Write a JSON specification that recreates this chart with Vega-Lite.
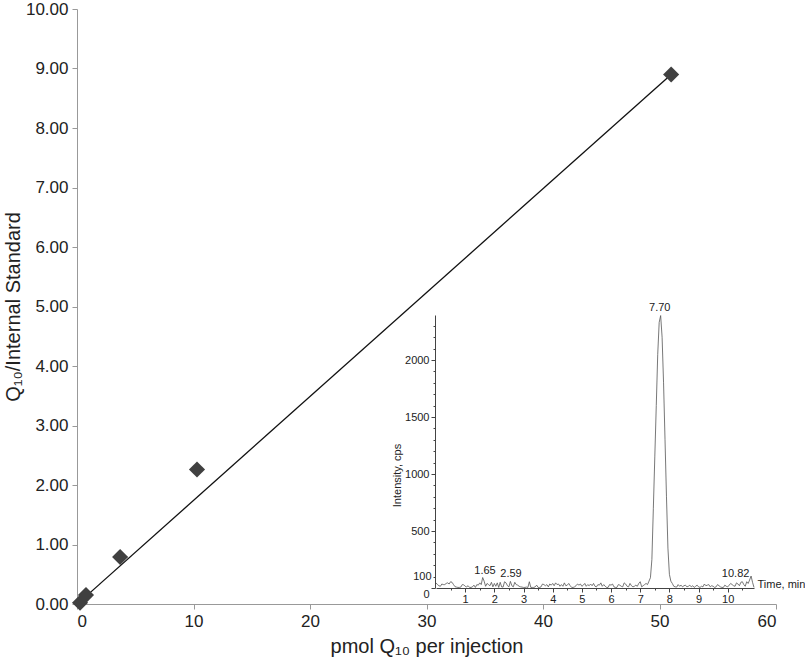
{
  "$schema": "https://vega.github.io/schema/vega-lite/v6.json",
  "width": 699,
  "height": 595,
  "autosize": "none",
  "padding": {"left": 77, "top": 9, "right": 29, "bottom": 66},
  "background": "white",
  "config": {"view": {"stroke": null}, "font": "Liberation Sans", "axis": {"grid": false}},
  "datasets": {
    "cal": [
      {"amount": 0.26, "ratio": 0.02},
      {"amount": 0.77, "ratio": 0.15},
      {"amount": 3.7, "ratio": 0.79},
      {"amount": 10.3, "ratio": 2.26},
      {"amount": 51.0, "ratio": 8.9}
    ],
    "fit": [
      {"amount": 0.26, "ratio": 0.04},
      {"amount": 51.0, "ratio": 8.9}
    ],
    "chrom": [
      {"t":0.00,"v":45},{"t":0.05,"v":30},{"t":0.10,"v":20},{"t":0.15,"v":15},{"t":0.20,"v":35},{"t":0.25,"v":30},{"t":0.30,"v":30},{"t":0.35,"v":40},{"t":0.40,"v":45},{"t":0.45,"v":35},
      {"t":0.50,"v":55},{"t":0.55,"v":50},{"t":0.60,"v":30},{"t":0.65,"v":12},{"t":0.70,"v":8},{"t":0.75,"v":5},{"t":0.80,"v":5},{"t":0.85,"v":8},{"t":0.90,"v":30},{"t":0.95,"v":28},
      {"t":1.00,"v":15},{"t":1.05,"v":10},{"t":1.10,"v":20},{"t":1.15,"v":5},{"t":1.20,"v":5},{"t":1.25,"v":10},{"t":1.30,"v":25},{"t":1.35,"v":5},{"t":1.40,"v":30},{"t":1.45,"v":25},
      {"t":1.50,"v":45},{"t":1.55,"v":30},{"t":1.60,"v":92},{"t":1.65,"v":60},{"t":1.70,"v":15},{"t":1.75,"v":40},{"t":1.80,"v":30},{"t":1.85,"v":20},{"t":1.90,"v":50},{"t":1.95,"v":10},
      {"t":2.00,"v":40},{"t":2.05,"v":15},{"t":2.10,"v":45},{"t":2.15,"v":5},{"t":2.20,"v":50},{"t":2.25,"v":10},{"t":2.30,"v":8},{"t":2.35,"v":55},{"t":2.40,"v":45},{"t":2.45,"v":20},
      {"t":2.50,"v":10},{"t":2.55,"v":58},{"t":2.60,"v":20},{"t":2.65,"v":10},{"t":2.70,"v":50},{"t":2.75,"v":30},{"t":2.80,"v":25},{"t":2.85,"v":15},{"t":2.90,"v":10},{"t":2.95,"v":8},
      {"t":3.00,"v":5},{"t":3.05,"v":5},{"t":3.10,"v":8},{"t":3.15,"v":5},{"t":3.20,"v":55},{"t":3.25,"v":5},{"t":3.30,"v":5},{"t":3.35,"v":5},{"t":3.40,"v":10},{"t":3.45,"v":25},
      {"t":3.50,"v":5},{"t":3.55,"v":5},{"t":3.60,"v":10},{"t":3.65,"v":35},{"t":3.70,"v":30},{"t":3.75,"v":20},{"t":3.80,"v":30},{"t":3.85,"v":10},{"t":3.90,"v":35},{"t":3.95,"v":25},
      {"t":4.00,"v":40},{"t":4.05,"v":20},{"t":4.10,"v":45},{"t":4.15,"v":30},{"t":4.20,"v":35},{"t":4.25,"v":15},{"t":4.30,"v":30},{"t":4.35,"v":15},{"t":4.40,"v":45},{"t":4.45,"v":20},
      {"t":4.50,"v":25},{"t":4.55,"v":40},{"t":4.60,"v":20},{"t":4.65,"v":5},{"t":4.70,"v":5},{"t":4.75,"v":10},{"t":4.80,"v":20},{"t":4.85,"v":35},{"t":4.90,"v":25},{"t":4.95,"v":35},
      {"t":5.00,"v":15},{"t":5.05,"v":25},{"t":5.10,"v":40},{"t":5.15,"v":15},{"t":5.20,"v":30},{"t":5.25,"v":20},{"t":5.30,"v":35},{"t":5.35,"v":20},{"t":5.40,"v":40},{"t":5.45,"v":15},
      {"t":5.50,"v":10},{"t":5.55,"v":30},{"t":5.60,"v":25},{"t":5.65,"v":45},{"t":5.70,"v":15},{"t":5.75,"v":30},{"t":5.80,"v":15},{"t":5.85,"v":5},{"t":5.90,"v":5},{"t":5.95,"v":30},
      {"t":6.00,"v":25},{"t":6.05,"v":35},{"t":6.10,"v":10},{"t":6.15,"v":5},{"t":6.20,"v":5},{"t":6.25,"v":30},{"t":6.30,"v":25},{"t":6.35,"v":15},{"t":6.40,"v":10},{"t":6.45,"v":45},
      {"t":6.50,"v":35},{"t":6.55,"v":15},{"t":6.60,"v":10},{"t":6.65,"v":40},{"t":6.70,"v":20},{"t":6.75,"v":10},{"t":6.80,"v":15},{"t":6.85,"v":25},{"t":6.90,"v":15},{"t":6.95,"v":40},
      {"t":7.00,"v":55},{"t":7.05,"v":10},{"t":7.10,"v":20},{"t":7.15,"v":30},{"t":7.20,"v":40},{"t":7.25,"v":30},{"t":7.30,"v":60},{"t":7.35,"v":90},
      {"t":7.40,"v":250},{"t":7.45,"v":700},{"t":7.50,"v":1150},{"t":7.55,"v":1600},{"t":7.60,"v":2050},{"t":7.65,"v":2330},{"t":7.70,"v":2390},{"t":7.75,"v":2200},{"t":7.80,"v":1800},{"t":7.85,"v":1300},
      {"t":7.90,"v":800},{"t":7.95,"v":350},{"t":8.00,"v":120},{"t":8.05,"v":60},
      {"t":8.10,"v":40},{"t":8.15,"v":15},{"t":8.20,"v":10},{"t":8.25,"v":8},{"t":8.30,"v":30},{"t":8.35,"v":15},{"t":8.40,"v":25},{"t":8.45,"v":10},{"t":8.50,"v":20},{"t":8.55,"v":25},
      {"t":8.60,"v":10},{"t":8.65,"v":15},{"t":8.70,"v":25},{"t":8.75,"v":10},{"t":8.80,"v":20},{"t":8.85,"v":5},{"t":8.90,"v":15},{"t":8.95,"v":25},{"t":9.00,"v":10},{"t":9.05,"v":5},
      {"t":9.10,"v":15},{"t":9.15,"v":10},{"t":9.20,"v":35},{"t":9.25,"v":20},{"t":9.30,"v":25},{"t":9.35,"v":30},{"t":9.40,"v":10},{"t":9.45,"v":20},{"t":9.50,"v":15},{"t":9.55,"v":5},
      {"t":9.60,"v":10},{"t":9.65,"v":30},{"t":9.70,"v":20},{"t":9.75,"v":10},{"t":9.80,"v":5},{"t":9.85,"v":5},{"t":9.90,"v":25},{"t":9.95,"v":15},{"t":10.00,"v":10},{"t":10.05,"v":25},
      {"t":10.10,"v":40},{"t":10.15,"v":30},{"t":10.20,"v":20},{"t":10.25,"v":15},{"t":10.30,"v":45},{"t":10.35,"v":35},{"t":10.40,"v":20},{"t":10.45,"v":50},{"t":10.50,"v":55},{"t":10.55,"v":30},
      {"t":10.60,"v":15},{"t":10.65,"v":55},{"t":10.70,"v":40},{"t":10.75,"v":70},{"t":10.80,"v":105},{"t":10.85,"v":50},{"t":10.90,"v":5}
    ],
    "peaks": [
      {"t": 1.68, "v": 96, "label": "1.65"},
      {"t": 2.57, "v": 70, "label": "2.59"},
      {"t": 7.67, "v": 2400, "label": "7.70"},
      {"t": 10.27, "v": 70, "label": "10.82"}
    ]
  },
  "layer": [
    {
      "encoding": {
        "x": {
          "field": "amount", "type": "quantitative",
          "scale": {"domain": [0, 60], "nice": false},
          "axis": {
            "values": [0, 10, 20, 30, 40, 50, 60],
            "title": "pmol Q₁₀ per injection",
            "labelFontSize": 17, "labelColor": "#222", "labelPadding": 4,
            "tickSize": 5, "tickColor": "#999", "domainColor": "#999",
            "titleFontSize": 20, "titleFontWeight": "normal", "titleColor": "#222", "titlePadding": 7
          }
        },
        "y": {
          "field": "ratio", "type": "quantitative",
          "scale": {"domain": [0, 10], "nice": false},
          "axis": {
            "values": [0, 1, 2, 3, 4, 5, 6, 7, 8, 9, 10],
            "format": ".2f",
            "title": "Q₁₀/Internal Standard",
            "labelFontSize": 17, "labelColor": "#222", "labelPadding": 4,
            "tickSize": 5, "tickColor": "#999", "domainColor": "#999",
            "titleFontSize": 20, "titleFontWeight": "normal", "titleColor": "#222", "titlePadding": 2
          }
        }
      },
      "layer": [
        {
          "data": {"name": "fit"},
          "mark": {"type": "line", "color": "#111", "strokeWidth": 1.3}
        },
        {
          "data": {"name": "cal"},
          "mark": {"type": "point", "shape": "diamond", "filled": true, "color": "#404040", "size": 260, "opacity": 1}
        }
      ]
    },
    {
      "encoding": {
        "x": {
          "field": "t", "type": "quantitative",
          "scale": {"domain": [0, 10.9], "range": [359, 677], "nice": false, "zero": false},
          "axis": {
            "orient": "bottom", "offset": -16,
            "values": [0.5, 1, 1.5, 2, 2.5, 3, 3.5, 4, 4.5, 5, 5.5, 6, 6.5, 7, 7.5, 8, 8.5, 9, 9.5, 10, 10.5],
            "labelExpr": "datum.value % 1 === 0 ? format(datum.value, 'd') : ''",
            "labelOverlap": false,
            "labelFontSize": 11, "labelColor": "#222", "labelPadding": 1,
            "tickSize": {"condition": {"test": "datum.value % 1 === 0", "value": 4}, "value": 2},
            "tickColor": "#444", "domainColor": "#444",
            "title": "Time, min", "titleX": 680, "titleY": -4, "titleAlign": "left", "titleBaseline": "middle",
            "titleFontSize": 11, "titleFontWeight": "normal", "titleColor": "#222"
          }
        },
        "y": {
          "field": "v", "type": "quantitative",
          "scale": {"domain": [0, 2395], "range": [579, 306], "nice": false},
          "axis": {
            "orient": "left", "offset": -358,
            "values": [0, 100, 200, 300, 400, 500, 600, 700, 800, 900, 1000, 1100, 1200, 1300, 1400, 1500, 1600, 1700, 1800, 1900, 2000, 2100, 2200, 2300],
            "labelExpr": "indexof([0, 100, 500, 1000, 1500, 2000], datum.value) >= 0 ? format(datum.value, 'd') : ''",
            "labelOverlap": false,
            "labelBaseline": {"condition": {"test": "datum.value === 0", "value": "top"}, "value": "middle"},
            "labelFontSize": 11, "labelColor": "#222", "labelPadding": 2,
            "tickSize": {"condition": {"test": "datum.value % 500 === 0", "value": 4}, "value": 2},
            "tickColor": "#444", "domainColor": "#444",
            "title": "Intensity, cps", "titleX": -38, "titleY": 466, "titleAngle": -90,
            "titleAlign": "center", "titleBaseline": "middle",
            "titleFontSize": 11, "titleFontWeight": "normal", "titleColor": "#222"
          }
        }
      },
      "layer": [
        {
          "data": {"name": "chrom"},
          "mark": {"type": "line", "color": "#555", "strokeWidth": 0.8}
        },
        {
          "data": {"name": "peaks"},
          "mark": {"type": "text", "fontSize": 11, "color": "#222", "baseline": "bottom", "dy": -1},
          "encoding": {"text": {"field": "label"}}
        }
      ]
    }
  ],
  "resolve": {"scale": {"x": "independent", "y": "independent"}}
}
